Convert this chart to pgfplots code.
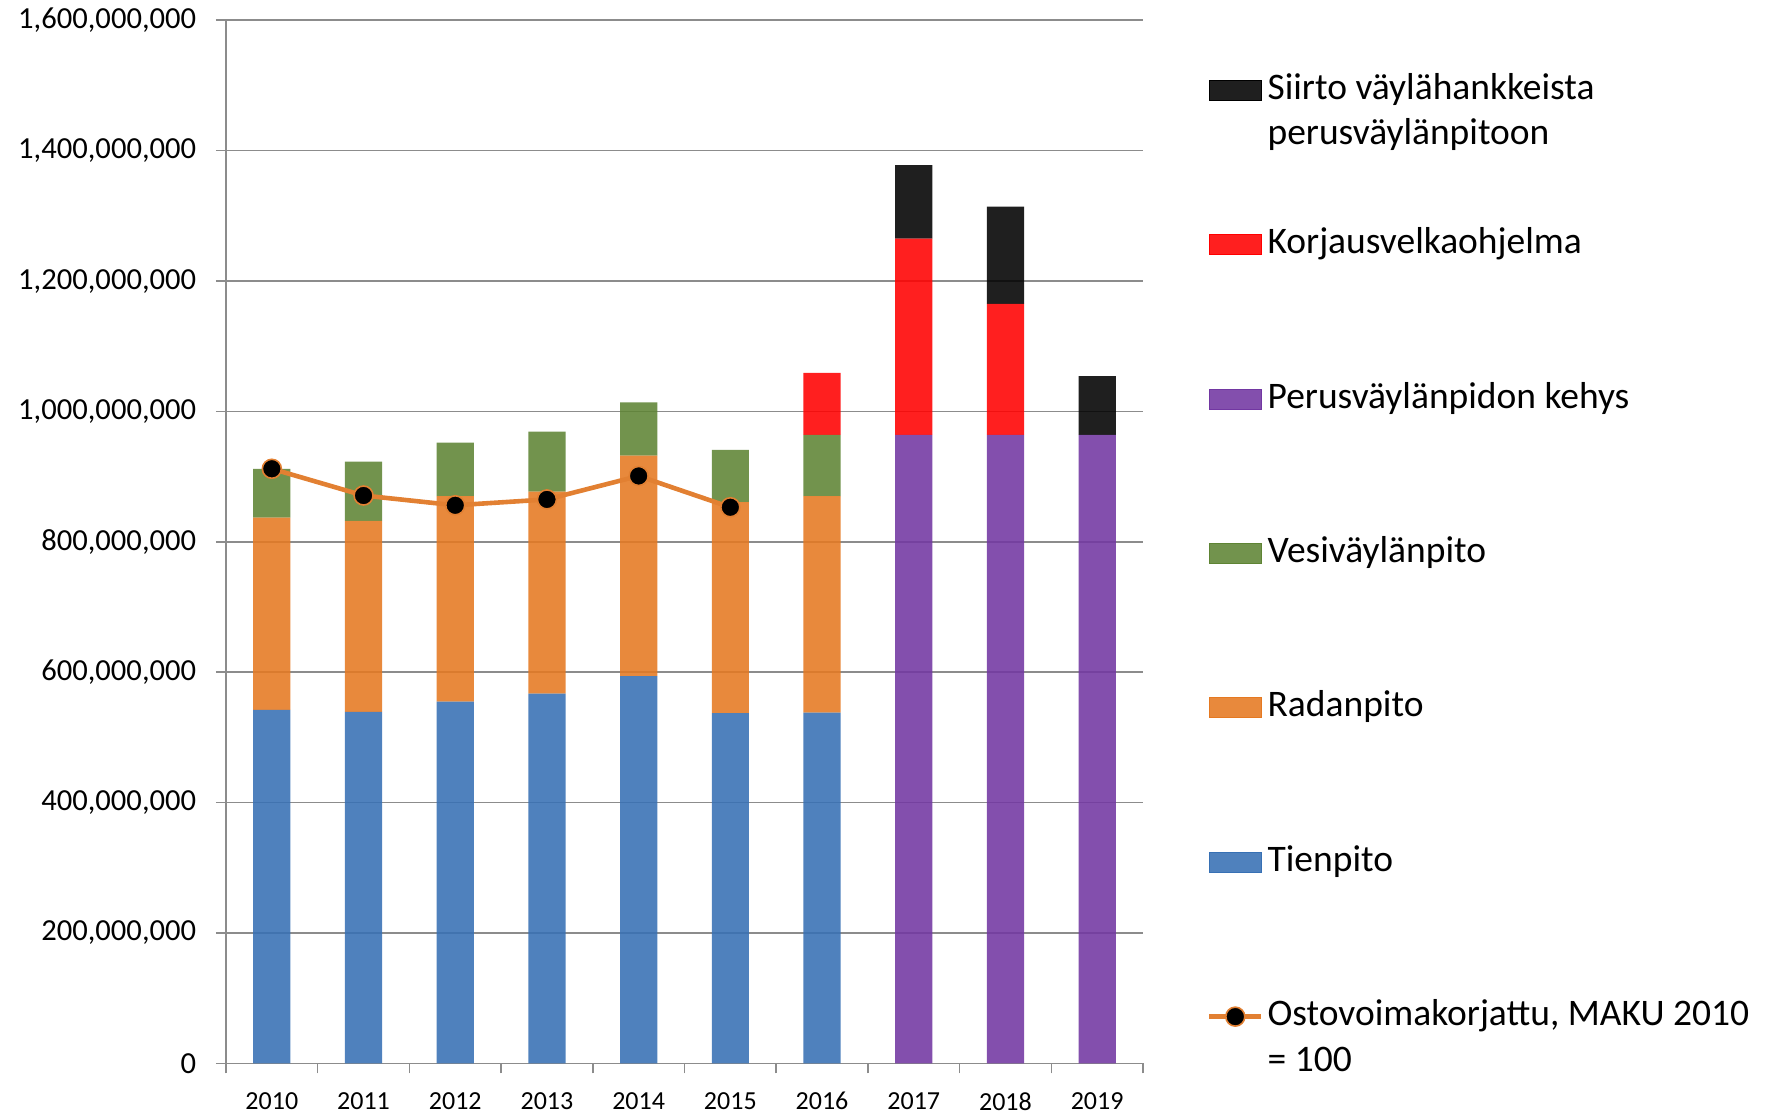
\documentclass[border=0pt]{standalone}
\usepackage{fontspec}
\setmainfont{Carlito}
\usepackage{pgfplots}
\usepackage{pgfplotstable}
\pgfplotsset{compat=1.18}

\definecolor{ctien}{RGB}{55,112,180}
\definecolor{crata}{RGB}{229,121,33}
\definecolor{cvesi}{RGB}{94,132,52}
\definecolor{cperus}{RGB}{114,55,162}
\definecolor{ckorj}{RGB}{255,0,0}
\definecolor{csiirto}{RGB}{0,0,0}
\definecolor{cline}{RGB}{226,128,50}
\definecolor{cgrid}{RGB}{140,140,140}

% values in millions of euros
\pgfplotstableread{
x tien rata vesi perus korj siirto
0 542 295 75 0 0 0
1 539 293 91 0 0 0
2 555 315 82 0 0 0
3 567 310 92 0 0 0
4 594 338 82 0 0 0
5 537 324 80 0 0 0
6 538 332 94 0 95 0
7 0 0 0 964 301 113
8 0 0 0 964 201 149
9 0 0 0 964 0 90
}\datatable

\pgfplotstableread{
x maku
0 912
1 871
2 856
3 865
4 901
5 853
}\linetable

\begin{document}
\begin{tikzpicture}
\begin{axis}[
  name=main,
  scale only axis, width=458.5pt, height=521.5pt,
  xmin=-0.5, xmax=9.5, ymin=0, ymax=1600,
  ybar stacked, bar width=18.6pt,
  axis lines*=left,
  axis line style={cgrid, line width=0.8pt},
  xtick={0,1,2,3,4,5,6,7,8,9},
  xticklabels={2010,2011,2012,2013,2014,2015,2016,2017,2018,2019},
  minor xtick={-0.5,0.5,1.5,2.5,3.5,4.5,5.5,6.5,7.5,8.5,9.5},
  ytick={0,200,400,600,800,1000,1200,1400,1600},
  minor ytick={0,200,400,600,800,1000,1200,1400,1600},
  yticklabels={0,{200,000,000},{400,000,000},{600,000,000},{800,000,000},{1,000,000,000},{1,200,000,000},{1,400,000,000},{1,600,000,000}},
  ymajorgrids, grid style={cgrid, line width=0.8pt},
  major tick length=0pt, minor tick length=5pt, tick align=outside,
  minor tick style={cgrid, line width=0.8pt},
  xticklabel style={font=\fontsize{13}{15}\selectfont, yshift=-11pt},
  yticklabel style={font=\fontsize{15.3}{18}\selectfont, xshift=-11.4pt},
]
\addplot[fill=ctien, draw=none, fill opacity=0.88] table[x=x, y=tien] {\datatable};
\addplot[fill=crata, draw=none, fill opacity=0.88] table[x=x, y=rata] {\datatable};
\addplot[fill=cvesi, draw=none, fill opacity=0.88] table[x=x, y=vesi] {\datatable};
\addplot[fill=cperus, draw=none, fill opacity=0.88] table[x=x, y=perus] {\datatable};
\addplot[fill=ckorj, draw=none, fill opacity=0.88] table[x=x, y=korj] {\datatable};
\addplot[fill=csiirto, draw=none, fill opacity=0.88] table[x=x, y=siirto] {\datatable};
\end{axis}

\begin{axis}[
  at={(main.south west)}, anchor=south west,
  scale only axis, width=458.5pt, height=521.5pt,
  xmin=-0.5, xmax=9.5, ymin=0, ymax=1600,
  hide axis, clip=false,
  legend cell align=left,
  legend style={at={(1.0698,0.9531)}, anchor=north west, draw=none, fill=none,
    inner sep=0pt, outer sep=0pt, row sep=56.2pt, column sep=1pt,
    font=\fontsize{18.75}{22.8}\selectfont,
    nodes={inner sep=1pt, text height=14pt, text depth=5pt}},
]
\addlegendimage{legend image code/.code={\fill[csiirto, fill opacity=0.88] (0pt,-5pt) rectangle (26pt,5pt);}}
\addlegendentry{\parbox[t]{280pt}{Siirto väylähankkeista\\perusväylänpitoon}}
\addlegendimage{legend image code/.code={\fill[ckorj, fill opacity=0.88] (0pt,-5pt) rectangle (26pt,5pt);}}
\addlegendentry{Korjausvelkaohjelma}
\addlegendimage{legend image code/.code={\fill[cperus, fill opacity=0.88] (0pt,-5pt) rectangle (26pt,5pt);}}
\addlegendentry{Perusväylänpidon kehys}
\addlegendimage{legend image code/.code={\fill[cvesi, fill opacity=0.88] (0pt,-5pt) rectangle (26pt,5pt);}}
\addlegendentry{Vesiväylänpito}
\addlegendimage{legend image code/.code={\fill[crata, fill opacity=0.88] (0pt,-5pt) rectangle (26pt,5pt);}}
\addlegendentry{Radanpito}
\addlegendimage{legend image code/.code={\fill[ctien, fill opacity=0.88] (0pt,-5pt) rectangle (26pt,5pt);}}
\addlegendentry{Tienpito}
\addplot[cline, line width=2.3pt, mark=*, mark size=4.75pt,
  mark options={fill=black, draw=cline, line width=0.8pt},
  legend image code/.code={\draw[mark repeat=2, mark phase=2] plot coordinates {(0pt,0pt) (13pt,0pt) (26pt,0pt)};}]
  table[x=x, y=maku] {\linetable};
\addlegendentry{\parbox[t]{280pt}{Ostovoimakorjattu, MAKU 2010\\= 100}}
\end{axis}

\pgfresetboundingbox
\path ([xshift=-113pt, yshift=-25pt]main.south west) rectangle ([xshift=314pt, yshift=10.15pt]main.north east);
\end{tikzpicture}
\end{document}
